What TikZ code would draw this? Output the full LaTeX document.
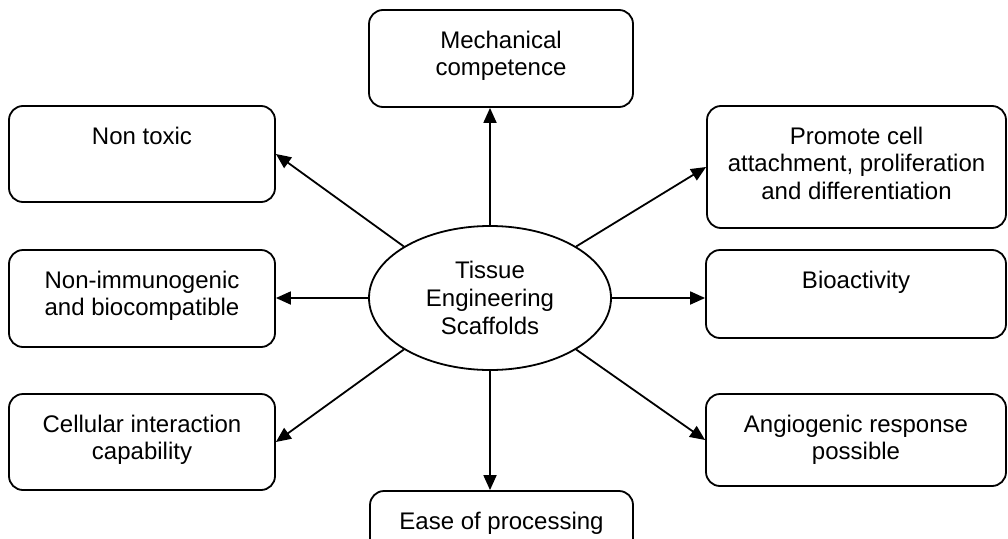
\documentclass[tikz,border=0pt]{standalone}
\usepackage{fontspec}
\setmainfont{Liberation Sans}
\usetikzlibrary{shapes.geometric,arrows.meta}
\newcommand{\proptext}[3]{\parbox[c][#2pt][t]{#1pt}{\centering\vspace*{21pt}#3}}

\begin{document}
\begin{tikzpicture}[x=1pt,y=-1pt,
    prop/.style={draw,rounded corners=14pt,line width=1.8pt,inner sep=0pt,font=\fontsize{24}{27.6}\selectfont},
    link/.style={line width=1.8pt,-{Triangle[length=15pt,width=13pt]}}]
  \useasboundingbox (0,0) rectangle (1008,538);
  \node[draw,ellipse,line width=1.8pt,minimum width=242pt,minimum height=144pt,inner sep=0pt,
        align=center,font=\fontsize{24}{27.6}\selectfont] (scaf) at (490,298) {Tissue\\Engineering\\Scaffolds};
  \node[prop] (mech) at (501,58.5) {\proptext{264}{97}{Mechanical\\competence}};
  \node[prop] (nontox) at (142,154) {\proptext{266}{96}{Non toxic}};
  \node[prop] (promote) at (856.5,167) {\proptext{299}{122}{Promote cell\\attachment, proliferation\\and differentiation}};
  \node[prop] (nonimm) at (142,298.5) {\proptext{266}{97}{Non-immunogenic\\and biocompatible}};
  \node[prop] (bioact) at (856,294) {\proptext{300}{88}{Bioactivity}};
  \node[prop] (cell) at (142,442) {\proptext{266}{96}{Cellular interaction\\capability}};
  \node[prop] (angio) at (856,440) {\proptext{300}{92}{Angiogenic response\\possible}};
  \node[prop] (ease) at (501.5,539.5) {\proptext{263}{97}{Ease of processing}};
  \draw[link] (scaf.north) -- (scaf.north |- mech.south);
  \draw[link] (scaf.south) -- (scaf.south |- ease.north);
  \draw[link] (scaf.west) -- (scaf.west -| nonimm.east);
  \draw[link] (scaf.east) -- (scaf.east -| bioact.west);
  \foreach \from/\to in {north west/nontox.east,north east/promote.west,south west/cell.east,south east/angio.west}
    \draw[link] (scaf.\from) -- (\to);
\end{tikzpicture}
\end{document}
